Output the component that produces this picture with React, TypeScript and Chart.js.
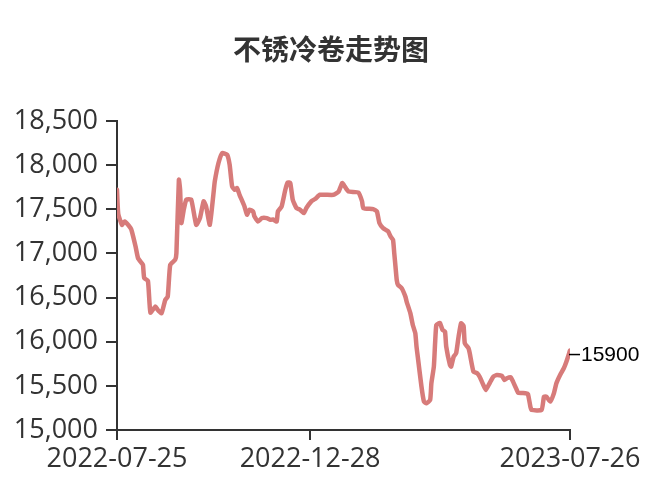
import React, { useEffect, useRef } from "react";
import { Chart, registerables } from "chart.js";

Chart.register(...registerables);

const title = "不锈冷卷走势图";

const dates: string[] = [
  "2022-07-25", "2022-07-26", "2022-07-29", "2022-07-31", "2022-08-05", "2022-08-06",
  "2022-08-09", "2022-08-11", "2022-08-14", "2022-08-15", "2022-08-16", "2022-08-19",
  "2022-08-21", "2022-08-25", "2022-08-27", "2022-08-30", "2022-09-02", "2022-09-04",
  "2022-09-06", "2022-09-10", "2022-09-11", "2022-09-13", "2022-09-14", "2022-09-15",
  "2022-09-17", "2022-09-19", "2022-09-23", "2022-09-27", "2022-09-30", "2022-10-03",
  "2022-10-05", "2022-10-08", "2022-10-11", "2022-10-12", "2022-10-15", "2022-10-18",
  "2022-10-22", "2022-10-24", "2022-10-26", "2022-10-28", "2022-10-30", "2022-11-01",
  "2022-11-05", "2022-11-07", "2022-11-09", "2022-11-12", "2022-11-13", "2022-11-16",
  "2022-11-19", "2022-11-23", "2022-11-26", "2022-11-28", "2022-12-01", "2022-12-02",
  "2022-12-05", "2022-12-08", "2022-12-10", "2022-12-12", "2022-12-14", "2022-12-17",
  "2022-12-20", "2022-12-23", "2022-12-25", "2022-12-29", "2023-01-01", "2023-01-05",
  "2023-01-16", "2023-01-20", "2023-01-23", "2023-01-25", "2023-01-28", "2023-02-05",
  "2023-02-08", "2023-02-09", "2023-02-17", "2023-02-20", "2023-02-22", "2023-02-25",
  "2023-03-01", "2023-03-03", "2023-03-05", "2023-03-06", "2023-03-07", "2023-03-08",
  "2023-03-09", "2023-03-12", "2023-03-15", "2023-03-16", "2023-03-19", "2023-03-21",
  "2023-03-23", "2023-03-24", "2023-03-25", "2023-03-28", "2023-03-30", "2023-04-01",
  "2023-04-04", "2023-04-05", "2023-04-07", "2023-04-08", "2023-04-09", "2023-04-11",
  "2023-04-12", "2023-04-14", "2023-04-16", "2023-04-17", "2023-04-20", "2023-04-21",
  "2023-04-23", "2023-04-25", "2023-04-27", "2023-04-29", "2023-05-01", "2023-05-02",
  "2023-05-05", "2023-05-06", "2023-05-09", "2023-05-12", "2023-05-14", "2023-05-17",
  "2023-05-19", "2023-05-22", "2023-05-25", "2023-05-28", "2023-06-01", "2023-06-03",
  "2023-06-05", "2023-06-08", "2023-06-10", "2023-06-13", "2023-06-14", "2023-06-20",
  "2023-06-22", "2023-06-24", "2023-06-25", "2023-07-03", "2023-07-05", "2023-07-07",
  "2023-07-10", "2023-07-13", "2023-07-15", "2023-07-18", "2023-07-21", "2023-07-23",
  "2023-07-26",
];

const prices: number[] = [
  17720, 17450, 17324, 17362, 17287, 17250,
  17078, 16947, 16890, 16870, 16720, 16690,
  16330, 16398, 16360, 16323, 16474, 16511,
  16871, 16928, 17003, 17834, 17721, 17344,
  17500, 17608, 17608, 17324, 17400, 17590,
  17532, 17324, 17684, 17815, 18024, 18137,
  18118, 18005, 17759, 17721, 17740, 17664,
  17532, 17438, 17494, 17475, 17420, 17362,
  17400, 17400, 17381, 17385, 17362, 17475,
  17532, 17721, 17804, 17797, 17608, 17514,
  17494, 17457, 17514, 17590, 17616, 17664,
  17664, 17700, 17797, 17759, 17702, 17690,
  17590, 17514, 17502, 17475, 17344, 17287,
  17250, 17192, 17154, 17003, 16852, 16701,
  16644, 16607, 16511, 16455, 16323, 16190,
  16096, 15944, 15831, 15491, 15321, 15302,
  15340, 15529, 15718, 15983, 16190, 16210,
  16210, 16134, 16115, 15944, 15737, 15718,
  15831, 15869, 16059, 16210, 16180, 15983,
  15926, 15869, 15661, 15643, 15604, 15510,
  15453, 15529, 15604, 15623, 15612, 15567,
  15586, 15597, 15548, 15453, 15423, 15416,
  15408, 15264, 15227, 15227, 15378, 15378,
  15321, 15416, 15529, 15623, 15699, 15770,
  15900,
];

const xTickLabels: string[] = ["2022-07-25", "2022-12-28", "2023-07-26"];
const yMin = 15000;
const yMax = 18500;
const yStep = 500;

const LINE_COLOR = "#d77b7a";
const AXIS_COLOR = "#333333";
const TEXT_COLOR = "#333333";
const TICK_FONT = "'Open Sans', 'Noto Sans', sans-serif";

const overlayPlugin = {
  id: "overlay",
  afterDraw(chart: any) {
    const ctx = chart.ctx;
    ctx.save();
    // title
    ctx.fillStyle = TEXT_COLOR;
    ctx.font = "bold 28px 'Noto Sans CJK SC', sans-serif";
    ctx.textAlign = "center";
    ctx.textBaseline = "middle";
    ctx.fillText(title, 331, 49);
    // end label
    const meta = chart.getDatasetMeta(0);
    const pts = meta.data;
    const last = pts[pts.length - 1];
    if (last) {
      const y = last.y + 4;
      ctx.strokeStyle = "#000";
      ctx.lineWidth = 1.5;
      ctx.beginPath();
      ctx.moveTo(last.x - 1, y);
      ctx.lineTo(last.x + 10, y);
      ctx.stroke();
      ctx.fillStyle = "#000";
      ctx.font = "21px 'Liberation Sans', Arial, sans-serif";
      ctx.textAlign = "left";
      ctx.textBaseline = "middle";
      ctx.fillText(String(prices[prices.length - 1]), last.x + 11, y + 1);
    }
    ctx.restore();
  },
};

export default function App() {
  const canvasRef = useRef<HTMLCanvasElement | null>(null);

  useEffect(() => {
    const canvas = canvasRef.current;
    if (!canvas) return;
    const points = dates.map((d, i) => ({ x: Date.parse(d), y: prices[i] }));
    const chart = new Chart(canvas, {
      type: "line",
      data: {
        datasets: [
          {
            data: points,
            borderColor: LINE_COLOR,
            borderWidth: 4.5,
            pointRadius: 0,
            tension: 0.15,
            borderJoinStyle: "round",
            borderCapStyle: "round",
            fill: false,
          },
        ],
      },
      options: {
        animation: false,
        responsive: false,
        maintainAspectRatio: false,
        layout: { padding: { left: 0, top: 121, right: 84, bottom: 0 } },
        plugins: {
          legend: { display: false },
          tooltip: { enabled: false },
          title: { display: false },
        },
        scales: {
          x: {
            type: "linear",
            min: Date.parse(xTickLabels[0]),
            max: Date.parse(xTickLabels[xTickLabels.length - 1]),
            afterBuildTicks: (scale: any) => {
              scale.ticks = xTickLabels.map((l) => ({ value: Date.parse(l) }));
            },
            afterFit: (scale: any) => {
              scale.height = 66;
              scale.paddingLeft = 0;
              scale.paddingRight = 0;
            },
            border: { display: true, color: AXIS_COLOR, width: 2 },
            grid: {
              display: true,
              drawOnChartArea: false,
              drawTicks: true,
              tickLength: 10,
              color: AXIS_COLOR,
              lineWidth: 2,
            },
            ticks: {
              autoSkip: false,
              maxRotation: 0,
              minRotation: 0,
              padding: 3,
              color: TEXT_COLOR,
              font: { family: TICK_FONT, size: 27 },
              callback: (v: any) => new Date(v).toISOString().slice(0, 10),
            },
          },
          y: {
            type: "linear",
            min: yMin,
            max: yMax,
            afterFit: (scale: any) => {
              scale.width = 117;
              scale.paddingTop = 0;
              scale.paddingBottom = 0;
            },
            border: { display: true, color: AXIS_COLOR, width: 2 },
            grid: {
              display: true,
              drawOnChartArea: false,
              drawTicks: true,
              tickLength: 11,
              color: AXIS_COLOR,
              lineWidth: 2,
            },
            ticks: {
              stepSize: yStep,
              padding: 8,
              color: TEXT_COLOR,
              font: { family: TICK_FONT, size: 27 },
            },
          },
        },
      },
      plugins: [overlayPlugin],
    } as any);
    return () => chart.destroy();
  }, []);

  return (
    <div style={{ position: "fixed", left: 0, top: 0, width: 654, height: 496, background: "#fff" }}>
      <canvas ref={canvasRef} width={654} height={496} style={{ display: "block" }} />
    </div>
  );
}
